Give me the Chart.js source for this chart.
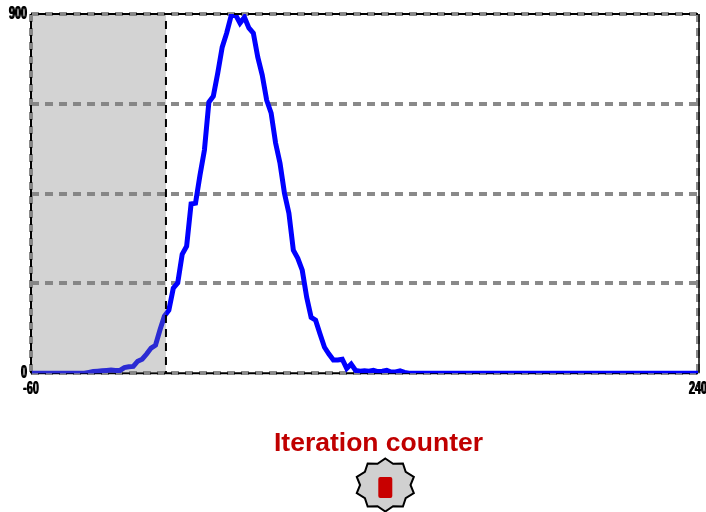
<!DOCTYPE html>
<html>
<head>
<meta charset="utf-8">
<style>
	html, body { margin: 0; padding: 0; background: #fff; overflow: hidden; }
	#chart-wrap { position: absolute; left: 0; top: 0; width: 706px; height: 512px; }
</style>
<script src="https://cdn.jsdelivr.net/npm/chart.js@4"></script>
</head>
<body>
<div id="chart-wrap"><canvas id="chart-canvas" width="706" height="512"></canvas></div>
<script>
const chart_title = 'Iteration counter'
const x_tick_values = [-60, 240]
const y_tick_labels = ['0', '900']
const shade_range = [-60, 0.7]
const iterations = [
	-60, -58, -56, -54, -52, -50, -48, -46, -44, -42, -40, -38, -36, -34, -32, -30,
	-28, -26, -24, -22, -20, -18, -16, -14, -12, -10, -8, -6, -4, -2, 0, 2,
	4, 6, 8, 10, 12, 14, 16, 18, 20, 22, 24, 26, 28, 30, 32, 34,
	36, 38, 40, 42, 44, 46, 48, 50, 52, 54, 56, 58, 60, 62, 64, 66,
	68, 70, 72, 74, 76, 78, 80, 82, 84, 86, 88, 90, 92, 94, 96, 98,
	100, 102, 104, 106, 108, 110, 112, 114, 116, 118, 120, 122, 124, 126, 128, 130,
	132, 134, 136, 138, 140, 142, 144, 146, 148, 150, 152, 154, 156, 158, 160, 162,
	164, 166, 168, 170, 172, 174, 176, 178, 180, 182, 184, 186, 188, 190, 192, 194,
	196, 198, 200, 202, 204, 206, 208, 210, 212, 214, 216, 218, 220, 222, 224, 226,
	228, 230, 232, 234, 236, 238, 240
]
const counts = [
	0, 0, 0, 0, 0, 0, 0, 0, 0, 0, 0, 0, 0, 2, 4, 5,
	6, 7, 8, 7, 7, 14, 16, 17, 30, 35, 48, 63, 70, 108, 143, 158,
	213, 226, 298, 318, 424, 426, 496, 559, 679, 694, 752, 817, 852, 895, 898, 877,
	892, 865, 852, 792, 747, 684, 652, 577, 526, 451, 401, 308, 288, 258, 190, 140,
	133, 98, 65, 48, 33, 33, 35, 12, 23, 7, 5, 6, 5, 7, 4, 5,
	7, 3, 3, 6, 2, 0, 0, 0, 0, 0, 0, 0, 0, 0, 0, 0,
	0, 0, 0, 0, 0, 0, 0, 0, 0, 0, 0, 0, 0, 0, 0, 0,
	0, 0, 0, 0, 0, 0, 0, 0, 0, 0, 0, 0, 0, 0, 0, 0,
	0, 0, 0, 0, 0, 0, 0, 0, 0, 0, 0, 0, 0, 0, 0, 0,
	0, 0, 0, 0, 0, 0, 0
]

function draw_edge(ctx, x1, y1, x2, y2, dash, width) {
	ctx.save()
	ctx.setLineDash(dash)
	ctx.lineDashOffset = 7
	ctx.strokeStyle = '#000'
	ctx.lineWidth = width
	ctx.beginPath()
	ctx.moveTo(x1, y1)
	ctx.lineTo(x2, y2)
	ctx.stroke()
	ctx.restore()
}

function draw_badge(ctx, cx, cy) {
	ctx.save()
	ctx.beginPath()
	for (let i = 0; i < 20; i++) {
		let angle = Math.PI * i / 10
		let ratio = i % 2 == 0 ? 1 : 0.84
		let x = cx + Math.sin(angle) * 30 * ratio
		let y = cy - Math.cos(angle) * 26.5 * ratio
		if (i == 0) {
			ctx.moveTo(x, y)
		} else {
			ctx.lineTo(x, y)
		}
	}
	ctx.closePath()
	ctx.fillStyle = '#d0d0d0'
	ctx.fill()
	ctx.strokeStyle = '#000'
	ctx.lineWidth = 2
	ctx.stroke()
	ctx.fillStyle = '#c80000'
	ctx.beginPath()
	ctx.roundRect(cx - 7, cy - 8, 14, 21, 2)
	ctx.fill()
	ctx.restore()
}

// the tick labels in the picture are squeezed sideways and heavy, fillText's maxWidth does that
function squeeze_text(ctx) {
	let fill_text = ctx.fillText.bind(ctx)
	ctx.fillText = function (text, x, y, max_width) {
		if (ctx.font.includes('18px')) {
			let width = ctx.measureText(text).width * 0.6
			fill_text(text, x - 0.4, y, width)
			fill_text(text, x + 0.4, y, width)
		} else if (max_width === undefined) {
			fill_text(text, x, y)
		} else {
			fill_text(text, x, y, max_width)
		}
	}
}

const decorations = {
	id: 'decorations',
	afterLayout(chart) {
		let block = chart.titleBlock
		block.left += 29.5
		block.right += 29.5
	},
	beforeDatasetsDraw(chart) {
		let ctx = chart.ctx
		let area = chart.chartArea
		draw_edge(ctx, area.left, area.bottom, area.right, area.bottom, [8, 6], 2)
	},
	afterDatasetsDraw(chart) {
		let ctx = chart.ctx
		let area = chart.chartArea
		let x_scale = chart.scales.x
		let left = x_scale.getPixelForValue(shade_range[0])
		let right = x_scale.getPixelForValue(shade_range[1])
		ctx.save()
		ctx.fillStyle = 'rgba(125, 125, 125, 0.34)'
		ctx.fillRect(left, area.top, right - left, area.bottom - area.top)
		ctx.restore()
		draw_edge(ctx, right, area.top, right, area.bottom, [8, 6], 2)
		draw_edge(ctx, area.left, area.top, area.left, area.bottom, [8, 6], 2)
		draw_edge(ctx, area.left, area.top, area.right, area.top, [8, 6], 2)
		draw_edge(ctx, area.right + 1, area.top, area.right + 1, area.bottom, [], 1.5)
	},
	afterDraw(chart) {
		draw_badge(chart.ctx, 385.3, 485)
	}
}

let canvas = document.getElementById('chart-canvas')
squeeze_text(canvas.getContext('2d'))

new Chart(canvas, {
	type: 'line',
	data: {
		datasets: [{
			data: iterations.map((x, i) => ({ x: x, y: counts[i] })),
			borderColor: '#0000ff',
			borderWidth: 5,
			pointRadius: 0,
			tension: 0,
			fill: false
		}]
	},
	options: {
		responsive: false,
		animation: false,
		layout: { autoPadding: false, padding: { left: 0, right: 8, top: 14, bottom: 0 } },
		plugins: {
			legend: { display: false },
			tooltip: { enabled: false },
			title: {
				display: true,
				text: chart_title,
				position: 'bottom',
				color: '#c00000',
				font: { family: '"Liberation Sans"', size: 26.5, weight: 'bold', lineHeight: 1.2 },
				padding: { top: 25, bottom: 52 }
			}
		},
		scales: {
			x: {
				type: 'linear',
				min: x_tick_values[0],
				max: x_tick_values[1],
				afterBuildTicks(scale) {
					scale.ticks = x_tick_values.map(v => ({ value: v }))
				},
				afterFit(scale) {
					scale.height = 30
					scale.paddingLeft = 0
					scale.paddingRight = 0
				},
				grid: {
					color: '#8a8a8a',
					lineWidth: 4,
					drawTicks: false
				},
				border: { display: false, dash: [8, 6] },
				ticks: {
					color: '#000',
					padding: 5,
					maxRotation: 0,
					autoSkip: false,
					font: { family: '"Liberation Sans"', size: 18, weight: 'bold' }
				}
			},
			y: {
				min: 0,
				max: 900,
				afterBuildTicks(scale) {
					scale.ticks = [0, 225, 450, 675, 900].map(v => ({ value: v }))
				},
				afterFit(scale) {
					scale.width = 31
					scale.paddingTop = 0
					scale.paddingBottom = 0
				},
				grid: {
					color: '#8a8a8a',
					lineWidth: 4,
					drawTicks: false
				},
				border: { display: false, dash: [8, 6] },
				ticks: {
					color: '#000',
					padding: 4,
					autoSkip: false,
					font: { family: '"Liberation Sans"', size: 18, weight: 'bold' },
					callback(value) {
						return y_tick_labels.includes(String(value)) ? String(value) : ''
					}
				}
			}
		}
	},
	plugins: [decorations]
})
</script>
</body>
</html>
